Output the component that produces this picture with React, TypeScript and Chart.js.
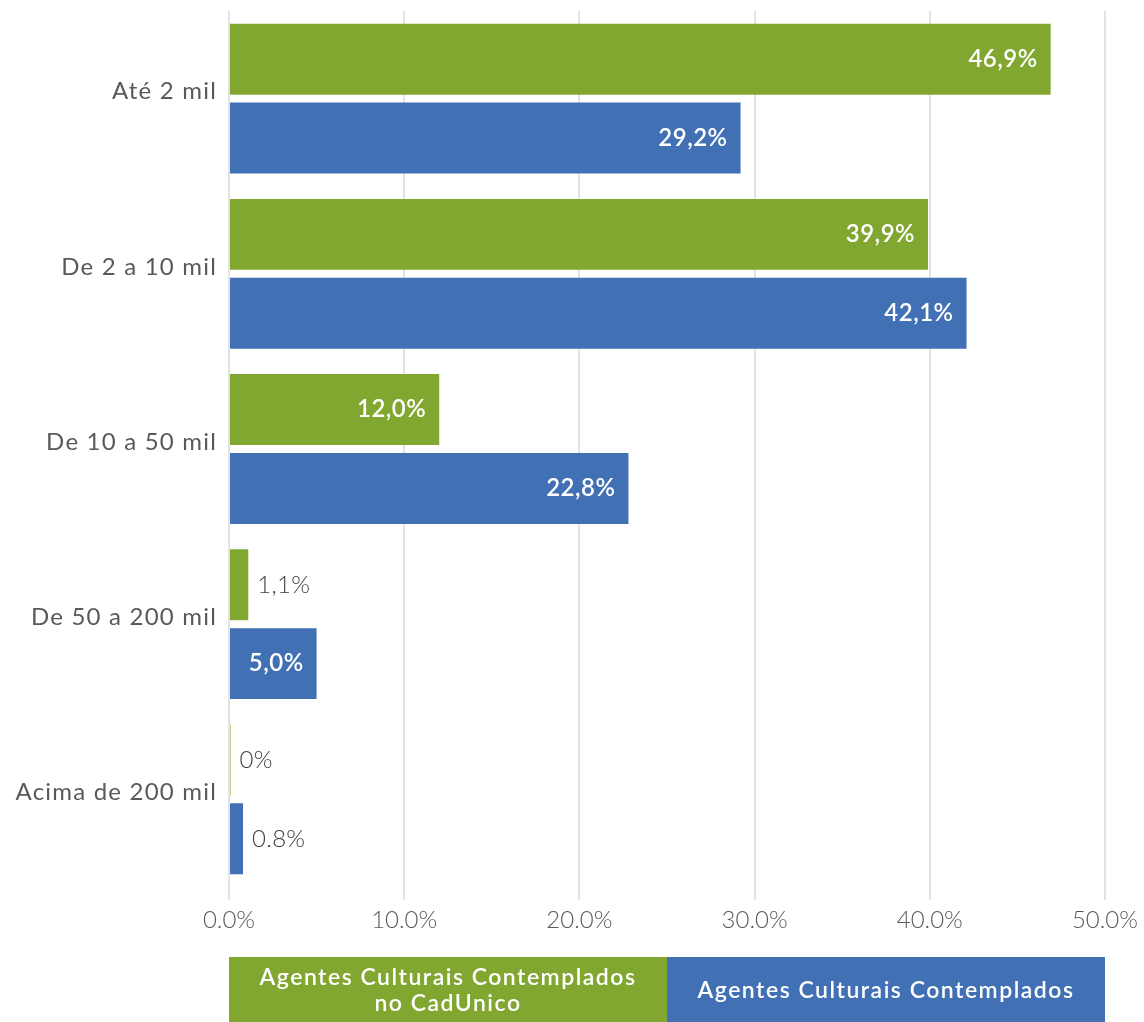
import React, { useEffect, useRef } from "react";
import { Chart, registerables } from "chart.js";

Chart.register(...registerables);

const categories = ["Até 2 mil", "De 2 a 10 mil", "De 10 a 50 mil", "De 50 a 200 mil", "Acima de 200 mil"];
const cadUnicoValues = [46.9, 39.9, 12.0, 1.1, 0];
const contempladosValues = [29.2, 42.1, 22.8, 5.0, 0.8];
const cadUnicoLabels = ["46,9%", "39,9%", "12,0%", "1,1%", "0%"];
const contempladosLabels = ["29,2%", "42,1%", "22,8%", "5,0%", "0.8%"];
const seriesNames = [["Agentes Culturais Contemplados", "no CadUnico"], ["Agentes Culturais Contemplados"]];
const xTicks = [0, 10, 20, 30, 40, 50];

const GREEN = "#82A730";
const BLUE = "#4170B5";
const FONT = "Lato, 'Open Sans', sans-serif";

const categoryLabelPlugin = {
  id: "categoryLabels",
  afterDraw(chart: any) {
    const ctx = chart.ctx;
    const y = chart.scales.y;
    ctx.save();
    ctx.font = `400 24px ${FONT}`;
    (ctx as any).letterSpacing = "1.2px";
    ctx.fillStyle = "#595959";
    ctx.textAlign = "right";
    ctx.textBaseline = "middle";
    categories.forEach((c, i) => {
      ctx.fillText(c, chart.chartArea.left - 12, y.getPixelForTick(i) - 7);
    });
    ctx.restore();
  },
};

const labelPlugin = {
  id: "barLabels",
  afterDatasetsDraw(chart: any) {
    const ctx = chart.ctx;
    const labelSets = [cadUnicoLabels, contempladosLabels];
    chart.data.datasets.forEach((ds: any, di: number) => {
      const meta = chart.getDatasetMeta(di);
      meta.data.forEach((bar: any, i: number) => {
        const v = ds.data[i];
        const text = labelSets[di][i];
        ctx.save();
        ctx.textBaseline = "middle";
        if (v >= 5) {
          ctx.font = `600 24px ${FONT}`;
          (ctx as any).letterSpacing = "0.5px";
          ctx.fillStyle = "#ffffff";
          ctx.textAlign = "right";
          ctx.fillText(text, bar.x - 13, bar.y);
        } else {
          ctx.font = `300 24px ${FONT}`;
          (ctx as any).letterSpacing = "0.3px";
          ctx.fillStyle = "#404040";
          ctx.textAlign = "left";
          ctx.fillText(text, Math.max(bar.x, chart.chartArea.left) + 9, bar.y);
        }
        ctx.restore();
      });
    });
  },
};

const legendPlugin = {
  id: "boxLegend",
  afterDraw(chart: any) {
    const ctx = chart.ctx;
    const { left, right } = chart.chartArea;
    const mid = (left + right) / 2;
    const top = 957;
    const h = 65;
    const colors = [GREEN, BLUE];
    const boxes = [
      [left, mid],
      [mid, right],
    ];
    ctx.save();
    boxes.forEach((b, i) => {
      ctx.fillStyle = colors[i];
      ctx.fillRect(b[0], top, b[1] - b[0], h);
      ctx.fillStyle = "#ffffff";
      ctx.font = `600 23px ${FONT}`;
      (ctx as any).letterSpacing = "1.5px";
      ctx.textAlign = "center";
      ctx.textBaseline = "middle";
      const lines = seriesNames[i];
      const lh = 26;
      const cy = top + h / 2 + 1.5;
      lines.forEach((ln, li) => {
        ctx.fillText(ln, (b[0] + b[1]) / 2, cy - ((lines.length - 1) * lh) / 2 + li * lh);
      });
    });
    ctx.restore();
  },
};

export default function App() {
  const ref = useRef<HTMLCanvasElement | null>(null);
  useEffect(() => {
    if (!ref.current) return;
    const chart = new Chart(ref.current, {
      type: "bar",
      data: {
        labels: categories,
        datasets: [
          {
            label: seriesNames[0].join(" "),
            data: cadUnicoValues,
            backgroundColor: GREEN,
            categoryPercentage: 0.9,
            barPercentage: 0.9,
            minBarLength: 1.5,
          },
          {
            label: seriesNames[1].join(" "),
            data: contempladosValues,
            backgroundColor: BLUE,
            categoryPercentage: 0.9,
            barPercentage: 0.9,
          },
        ],
      },
      options: {
        indexAxis: "y",
        animation: false,
        responsive: false,
        maintainAspectRatio: false,
        layout: { padding: { left: 0, right: 39, top: 11, bottom: 0 } },
        plugins: {
          legend: { display: false },
          tooltip: { enabled: false },
        },
        scales: {
          x: {
            min: 0,
            max: 50,
            afterBuildTicks(axis: any) {
              axis.ticks = xTicks.map((v) => ({ value: v }));
            },
            afterFit(axis: any) {
              axis.height = 1022 - 887;
            },
            grid: { color: "#e3e3e3", lineWidth: 2, tickLength: 13, drawTicks: true },
            border: { display: false },
            ticks: {
              color: "#595959",
              font: { family: FONT, size: 24, weight: "300" as any },
              padding: 6,
              maxRotation: 0,
              callback: (v: any) => Number(v).toFixed(1) + "%",
            },
          },
          y: {
            afterFit(axis: any) {
              axis.width = 229;
              axis.paddingTop = 0;
              axis.paddingBottom = 0;
            },
            grid: { display: false },
            border: { display: false },
            ticks: { display: false },
          },
        },
      },
      plugins: [labelPlugin, categoryLabelPlugin, legendPlugin],
    });
    return () => chart.destroy();
  }, []);
  return (
    <div style={{ position: "absolute", left: 0, top: 0, width: 1144, height: 1022, background: "#fff" }}>
      <canvas ref={ref} width={1144} height={1022} style={{ display: "block", width: 1144, height: 1022 }} />
    </div>
  );
}
